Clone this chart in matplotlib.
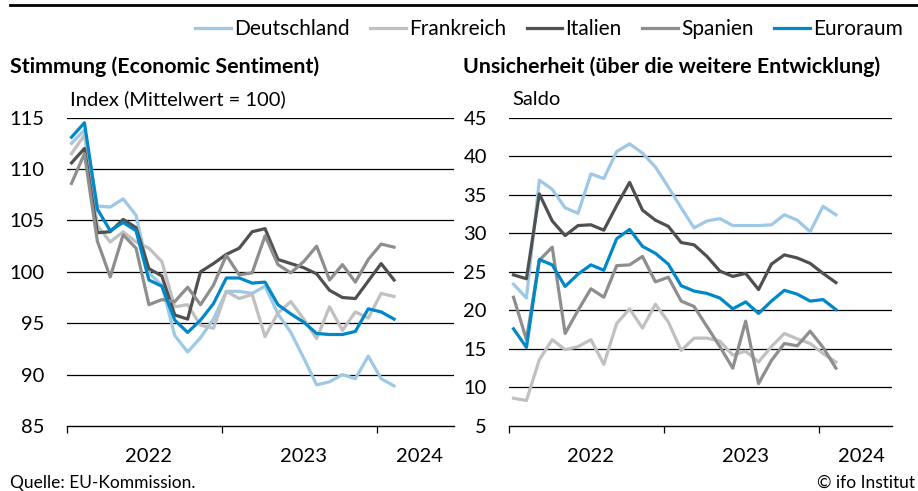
import numpy as np
import matplotlib
matplotlib.use('Agg')
import matplotlib.pyplot as plt
from matplotlib.lines import Line2D
from matplotlib.ticker import FixedLocator, NullFormatter

plt.rcParams['font.family'] = ['Lato', 'DejaVu Sans']

# ── Data: monthly, Jan 2022 .. Feb 2024 ─────────────────────────────────────
months = np.arange(26)
countries = ['Deutschland', 'Frankreich', 'Italien', 'Spanien', 'Euroraum']
colors = ['#9dc8e6', '#c0c0c0', '#505050', '#8e8e8e', '#0088c8']

# Economic Sentiment Indicator (Mittelwert = 100)
esi_de = [112.5, 113.8, 106.4, 106.3, 107.1, 105.5, 99.9, 98.7, 93.8, 92.2, 93.6, 95.4, 98.1,
          98.1, 97.9, 98.6, 95.9, 94.1, 91.6, 89.0, 89.3, 90.0, 89.6, 91.8, 89.6, 88.9]
esi_fr = [111.5, 113.3, 104.5, 102.9, 103.9, 102.9, 102.3, 101.0, 96.6, 96.8, 94.8, 94.5, 98.1,
          97.4, 97.8, 93.7, 96.0, 97.1, 95.4, 93.5, 96.6, 94.3, 96.1, 95.5, 97.9, 97.6]
esi_it = [110.6, 112.0, 103.8, 103.9, 105.1, 104.3, 100.3, 99.6, 95.8, 95.4, 100.0, 100.8, 101.7,
          102.3, 103.9, 104.2, 101.2, 100.8, 100.4, 99.8, 98.2, 97.5, 97.4, 99.1, 100.8, 99.2]
esi_es = [108.6, 111.5, 103.0, 99.5, 103.6, 102.3, 96.8, 97.3, 97.1, 98.5, 96.8, 98.7, 101.6,
          99.7, 99.9, 103.5, 100.7, 99.9, 101.0, 102.5, 99.2, 100.7, 99.0, 101.2, 102.7, 102.4]
esi_ea = [113.1, 114.5, 106.1, 104.0, 104.8, 104.0, 99.2, 98.6, 95.3, 94.1, 95.3, 96.9, 99.4,
          99.4, 98.9, 99.0, 96.8, 95.9, 95.1, 94.0, 93.9, 93.9, 94.2, 96.4, 96.1, 95.4]

# Uncertainty (Saldo)
unc_de = [23.4, 21.6, 36.9, 35.7, 33.3, 32.6, 37.7, 37.1, 40.6, 41.6, 40.4, 38.6, 36.0,
          33.3, 30.7, 31.6, 31.9, 31.0, 31.0, 31.0, 31.1, 32.4, 31.7, 30.2, 33.5, 32.4]
unc_fr = [8.6, 8.3, 13.6, 16.2, 14.9, 15.3, 16.2, 13.0, 18.3, 20.2, 17.7, 20.8, 18.5,
          14.8, 16.4, 16.4, 16.0, 14.2, 14.7, 13.3, 15.3, 17.0, 16.3, 15.7, 14.4, 13.3]
unc_it = [24.6, 24.1, 35.1, 31.6, 29.7, 31.0, 31.1, 30.4, 33.6, 36.6, 33.0, 31.7, 30.9,
          28.8, 28.5, 27.0, 25.1, 24.4, 24.8, 22.7, 26.0, 27.2, 26.8, 26.1, 24.8, 23.6]
unc_es = [21.7, 16.2, 26.5, 28.2, 17.0, 20.0, 22.8, 21.7, 25.8, 25.9, 27.0, 23.7, 24.3,
          21.2, 20.5, 17.9, 15.3, 12.5, 18.6, 10.5, 13.5, 15.7, 15.4, 17.3, 15.2, 12.5]
unc_ea = [17.6, 15.2, 26.6, 25.9, 23.1, 24.7, 25.9, 25.2, 29.3, 30.5, 28.3, 27.4, 26.0,
          23.2, 22.5, 22.2, 21.6, 20.2, 21.1, 19.6, 21.2, 22.6, 22.1, 21.2, 21.4, 20.1]

year_labels = ['2022', '2023', '2024']
year_bounds = [-0.35, 11.65, 23.65]
year_label_pos = [6.0, 18.0, 27.0]

FS = 14.5
FS_BOLD = 15.4

fig = plt.figure(figsize=(9.18, 4.91), dpi=100)
ax1 = fig.add_axes([0.073, 0.1324, 0.4216, 0.628])
ax2 = fig.add_axes([0.5545, 0.1324, 0.4172, 0.628])


def style_axis(ax, yticks, xmax):
    ax.set_ylim(yticks[0], yticks[-1])
    ax.set_yticks(yticks)
    ax.set_xlim(-0.35, xmax)
    for s in ['top', 'right', 'left']:
        ax.spines[s].set_visible(False)
    ax.spines['bottom'].set_linewidth(1.0)
    for y in yticks[1:]:
        ax.axhline(y, color='black', linewidth=0.9, zorder=1)
    ax.xaxis.set_major_locator(FixedLocator(year_bounds))
    ax.xaxis.set_major_formatter(NullFormatter())
    ax.xaxis.set_minor_locator(FixedLocator(year_label_pos))
    ax.set_xticklabels(year_labels, minor=True)
    ax.tick_params(axis='x', which='major', length=5, width=0.9, direction='out')
    ax.tick_params(axis='x', which='minor', length=0, pad=16, labelsize=FS)
    ax.tick_params(axis='y', length=0, pad=16, labelsize=FS)


series_left = [esi_de, esi_fr, esi_it, esi_es, esi_ea]
series_right = [unc_de, unc_fr, unc_it, unc_es, unc_ea]

for name, col, yl, yr in zip(countries, colors, series_left, series_right):
    ax1.plot(months, yl, color=col, linewidth=2.3, label=name, zorder=3)
    ax2.plot(months, yr, color=col, linewidth=2.3, zorder=3)

style_axis(ax1, [85, 90, 95, 100, 105, 110, 115], 29.65)
style_axis(ax2, [5, 10, 15, 20, 25, 30, 35, 40, 45], 29.35)

# ── Texts ──────────────────────────────────────────────────────────────────
fig.text(0.011, 0.864, 'Stimmung (Economic Sentiment)', fontsize=FS_BOLD,
         fontweight='bold', va='center', ha='left')
fig.text(0.076, 0.797, 'Index (Mittelwert = 100)', fontsize=FS, va='center', ha='left')
fig.text(0.504, 0.864, 'Unsicherheit (über die weitere Entwicklung)', fontsize=FS_BOLD,
         fontweight='bold', va='center', ha='left')
fig.text(0.558, 0.797, 'Saldo', fontsize=FS, va='center', ha='left')
fig.text(0.011, 0.016, 'Quelle: EU-Kommission.', fontsize=12.5, va='center', ha='left')
fig.text(0.997, 0.016, '© ifo Institut', fontsize=12.5, va='center', ha='right')

# top rule
fig.add_artist(Line2D([0.011, 1.0], [0.99, 0.99], color='black', linewidth=2.0))

fig.legend(loc='center', bbox_to_anchor=(0.598, 0.941), ncol=5, frameon=False,
           fontsize=FS + 0.5, handlelength=1.7, handletextpad=0.15, columnspacing=1.0,
           borderaxespad=0, borderpad=0)

fig.savefig('out.png', dpi=100)
